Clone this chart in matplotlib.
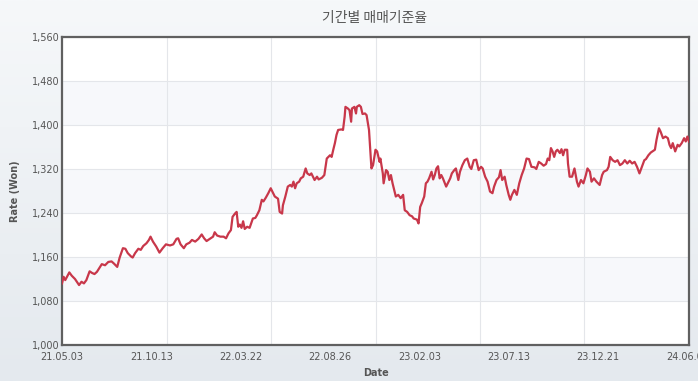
import numpy as np
import matplotlib
matplotlib.use("Agg")
import matplotlib.pyplot as plt
from matplotlib.colors import LinearSegmentedColormap

# trading-day index and KRW rate
day = [0, 2, 4, 9, 12, 16, 21, 24, 27, 30, 34, 37, 40, 43, 46, 49, 53, 57, 61, 64,
       68, 71, 75, 78, 81, 85, 87, 90, 94, 97, 100, 104, 107, 109, 112, 116, 120, 124, 128, 133,
       137, 141, 143, 146, 150, 153, 157, 160, 164, 168, 172, 175, 178, 182, 186, 188, 191, 195, 199, 202,
       205, 208, 210, 213, 215, 217, 219, 221, 223, 225, 228, 231, 235, 238, 240, 243, 246, 248, 251, 254,
       257, 259, 262, 266, 268, 271, 272, 275, 278, 281, 283, 285, 287, 289, 292, 294, 297, 300, 302, 305,
       307, 311, 314, 316, 320, 323, 326, 328, 330, 332, 334, 336, 338, 340, 344, 346, 348, 349, 352, 354,
       356, 357, 360, 362, 363, 366, 368, 370, 373, 375, 378, 379, 381, 383, 386, 388, 391, 392, 395, 396,
       399, 401, 403, 405, 407, 409, 411, 414, 417, 420, 422, 425, 428, 431, 433, 437, 439, 441, 443, 446,
       448, 450, 452, 455, 457, 459, 461, 463, 465, 467, 469, 473, 476, 478, 480, 483, 485, 488, 490, 493,
       496, 499, 502, 504, 507, 510, 513, 516, 518, 521, 524, 527, 530, 532, 535, 538, 540, 542, 545, 547,
       550, 552, 554, 557, 560, 563, 566, 569, 572, 575, 578, 582, 584, 587, 590, 593, 596, 598, 600, 602,
       604, 606, 608, 610, 613, 615, 617, 619, 622, 623, 625, 628, 631, 634, 636, 639, 642, 645, 647, 650,
       652, 655, 658, 662, 665, 667, 671, 673, 675, 678, 681, 684, 687, 690, 693, 696, 699, 702, 705, 708,
       711, 714, 717, 719, 722, 725, 727, 730, 732, 735, 737, 740, 743, 746, 748, 750, 752, 755, 758, 760,
       763, 766, 768, 770, 772]
rate = [1112, 1124, 1118, 1132, 1126, 1120, 1109, 1115, 1112, 1118, 1134, 1131, 1129, 1133, 1140, 1147, 1145, 1151, 1152, 1148,
        1142, 1159, 1176, 1175, 1167, 1161, 1159, 1167, 1175, 1173, 1180, 1185, 1191, 1197, 1188, 1179, 1168, 1176, 1183, 1181,
        1183, 1193, 1194, 1183, 1176, 1183, 1186, 1191, 1188, 1193, 1201, 1194, 1189, 1193, 1197, 1205, 1199, 1197, 1197, 1194,
        1203, 1209, 1233, 1239, 1242, 1215, 1219, 1213, 1225, 1211, 1215, 1213, 1230, 1231, 1236, 1245, 1264, 1261, 1268, 1276,
        1285, 1279, 1270, 1266, 1242, 1239, 1254, 1270, 1288, 1291, 1288, 1297, 1285, 1294, 1297, 1303, 1306, 1321, 1312, 1309,
        1312, 1300, 1306, 1301, 1304, 1309, 1339, 1342, 1345, 1342, 1355, 1367, 1382, 1391, 1392, 1391, 1415, 1433, 1430, 1427,
        1406, 1430, 1433, 1421, 1433, 1436, 1433, 1420, 1421, 1418, 1391, 1367, 1321, 1327, 1355, 1352, 1333, 1339, 1312, 1294,
        1318, 1315, 1300, 1309, 1294, 1282, 1270, 1273, 1267, 1273, 1245, 1242, 1236, 1234, 1230, 1228, 1221, 1251, 1258, 1270,
        1294, 1297, 1303, 1315, 1301, 1309, 1321, 1325, 1303, 1309, 1303, 1288, 1297, 1303, 1312, 1318, 1321, 1300, 1315, 1327,
        1336, 1339, 1324, 1320, 1336, 1337, 1318, 1324, 1321, 1306, 1297, 1279, 1276, 1288, 1300, 1305, 1318, 1300, 1306, 1291,
        1273, 1264, 1273, 1282, 1273, 1294, 1309, 1321, 1339, 1338, 1324, 1323, 1320, 1333, 1330, 1326, 1329, 1339, 1336, 1358,
        1352, 1342, 1352, 1355, 1349, 1356, 1345, 1355, 1355, 1330, 1306, 1306, 1321, 1297, 1288, 1300, 1294, 1309, 1321, 1315,
        1297, 1303, 1297, 1291, 1309, 1315, 1318, 1324, 1342, 1336, 1333, 1336, 1327, 1330, 1336, 1330, 1335, 1330, 1333, 1324,
        1312, 1324, 1336, 1338, 1345, 1350, 1352, 1355, 1373, 1394, 1388, 1376, 1379, 1376, 1364, 1358, 1367, 1352, 1364, 1361,
        1367, 1376, 1370, 1379, 1370]

tick_days = [0, 110, 220, 330, 440, 550, 660, 770]
tick_labels = ["21.05.03", "21.10.13", "22.03.22", "22.08.26", "23.02.03", "23.07.13", "23.12.21", "24.06.03"]
y_ticks = [1000, 1080, 1160, 1240, 1320, 1400, 1480, 1560]

W, H = 698, 381
fig = plt.figure(figsize=(W / 100, H / 100), dpi=100)

# soft background gradient
bg = fig.add_axes([0, 0, 1, 1], zorder=-10)
cmap = LinearSegmentedColormap.from_list("bg", ["#f6f8fa", "#e4e9ee"])
bg.imshow(np.linspace(0, 1, 256).reshape(-1, 1), aspect="auto", cmap=cmap, extent=[0, 1, 0, 1])
bg.axis("off")

ax = fig.add_axes([62 / W, 1 - 345 / H, 627 / W, 308 / H])
ax.set_facecolor("white")

for lo in [1080, 1240, 1400]:
    ax.axhspan(lo, lo + 80, color="#f7f8fb", zorder=0, lw=0)

ax.plot(day, rate, color="#c8374a", lw=1.6, zorder=3)

ax.set_xlim(0, 772)
ax.set_ylim(1000, 1560)
ax.set_yticks(y_ticks)
ax.set_yticklabels([f"{v:,}" for v in y_ticks])
ax.set_xticks(tick_days)
ax.set_xticklabels(tick_labels)
ax.set_xticks(np.linspace(0, 772, 7), minor=True)

ax.grid(axis="y", color="#e4e6ea", lw=0.8, zorder=1)
ax.grid(axis="x", which="minor", color="#e4e6ea", lw=0.8, zorder=1)
ax.set_axisbelow(True)

ax.tick_params(axis="both", which="both", length=0, labelsize=7, labelcolor="#555555")
ax.tick_params(axis="x", pad=5)
ax.tick_params(axis="y", pad=2)
for s in ax.spines.values():
    s.set_color("#606060")
    s.set_linewidth(1.6)

ax.set_xlabel("Date", fontsize=7, fontweight="bold", color="#555555", labelpad=4)
ax.set_ylabel("Rate (Won)", fontsize=7, fontweight="bold", color="#555555", labelpad=8)

fig.text(375 / W, 1 - 18 / H, "기간별 매매기준율", ha="center", va="center",
         fontsize=10, color="#555555", family=["Noto Sans CJK KR", "DejaVu Sans"])

fig.savefig("out.png", dpi=100)
